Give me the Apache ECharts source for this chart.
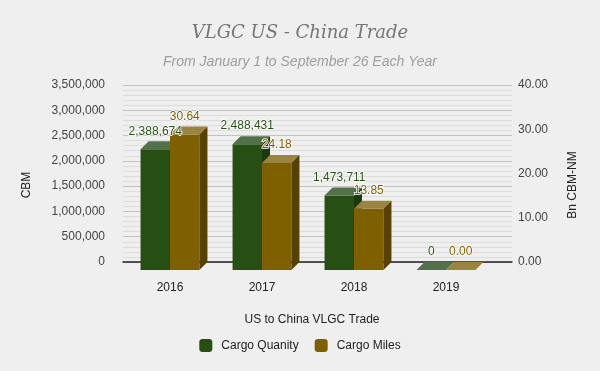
<!DOCTYPE html>
<html>
<head>
<meta charset="utf-8">
<script src="https://cdn.jsdelivr.net/npm/echarts@6/dist/echarts.min.js"></script>
<style>
html,body{margin:0;padding:0;background:#efefef;}
#chart{width:600px;height:371px;}
</style>
</head>
<body>
<div id="chart"></div>
<script>
const categories = ['2016', '2017', '2018', '2019'];
const cargoQuantity = [2388674, 2488431, 1473711, 0];
const cargoMiles = [30.64, 24.18, 13.85, 0.00];
const leftAxisRange = [0, 3500000, 500000];
const rightAxisRange = [0, 40, 10];
const seriesNames = ['Cargo Quanity', 'Cargo Miles'];

const FONT = '"Liberation Sans", Arial, sans-serif';
const DEPTH = 8;
const faceColors = [
  { front: '#274E13', top: '#52714A', side: '#1A3A0C', label: '#274E13' },
  { front: '#7F6000', top: '#9B8340', side: '#564100', label: '#7F6000' }
];

function fmtLeft(v) { return Number(v).toLocaleString('en-US'); }
function fmtRight(v) { return Number(v).toFixed(2); }

function makeRender(k) {
  return function (params, api) {
    const idx = api.value(0);
    const val = api.value(1);
    const base = api.coord([idx, 0]);
    const top = api.coord([idx, val]);
    const band = api.size([1, 0])[0];
    const w = band * 0.32;
    const cx = base[0];
    const x0 = k === 0 ? cx - w : cx;
    const x1 = x0 + w;
    const yb = base[1] + DEPTH;
    const yt = top[1] + DEPTH;
    const c = faceColors[k];
    const D = DEPTH;
    const text = k === 0 ? fmtLeft(val) : fmtRight(val);
    return {
      type: 'group',
      children: [
        { type: 'rect', shape: { x: x0, y: yt, width: w, height: yb - yt }, style: { fill: c.front } },
        { type: 'polygon', shape: { points: [[x0, yt], [x0 + D, yt - D], [x1 + D, yt - D], [x1, yt]] }, style: { fill: c.top } },
        { type: 'polygon', shape: { points: [[x1, yt], [x1 + D, yt - D], [x1 + D, yb - D], [x1, yb]] }, style: { fill: c.side } },
        { type: 'text', z2: 100, style: {
            x: (x0 + x1) / 2, y: yt - D - 10, text: text,
            fill: c.label, font: '12px ' + FONT, align: 'center', verticalAlign: 'middle',
            stroke: '#ffffff', lineWidth: 1.5
          } }
      ]
    };
  };
}

const chart = echarts.init(document.getElementById('chart'), null, { renderer: 'canvas' });
chart.setOption({
  backgroundColor: '#efefef',
  animation: false,
  textStyle: { fontFamily: FONT },
  title: [
    { text: 'VLGC US - China Trade', left: 'center', top: 19,
      textStyle: { fontFamily: '"DejaVu Serif", serif', fontStyle: 'italic', fontWeight: 'normal', fontSize: 18, color: '#757575' } },
    { text: 'From January 1 to September 26 Each Year', left: 'center', top: 50,
      textStyle: { fontFamily: FONT, fontStyle: 'italic', fontWeight: 'normal', fontSize: 14, color: '#9e9e9e' } }
  ],
  legend: {
    bottom: 14, left: 'center', itemWidth: 13, itemHeight: 13, itemGap: 16,
    icon: 'roundRect',
    textStyle: { fontSize: 12, color: '#222', padding: [0, 0, 0, 4] },
    data: [
      { name: seriesNames[0], itemStyle: { color: faceColors[0].front } },
      { name: seriesNames[1], itemStyle: { color: faceColors[1].front } }
    ]
  },
  grid: [
    { left: 123, right: 88, top: 85, bottom: 109 },
    { left: 124, right: 108, top: 85, bottom: 109 }
  ],
  xAxis: [
    { type: 'category', gridIndex: 0, data: categories,
      axisLine: { lineStyle: { color: '#222', width: 1.5 } },
      axisTick: { show: false }, axisLabel: { show: false } },
    { type: 'category', gridIndex: 1, data: categories,
      axisLine: { show: false }, axisTick: { show: false },
      axisLabel: { margin: 20, fontSize: 12, color: '#222' },
      name: 'US to China VLGC Trade', nameLocation: 'middle', nameGap: 52,
      nameTextStyle: { fontSize: 12, color: '#222', padding: [0, 0, 0, 8] } }
  ],
  yAxis: [
    { type: 'value', gridIndex: 0, min: leftAxisRange[0], max: leftAxisRange[1], interval: leftAxisRange[2],
      position: 'left',
      axisLine: { show: false }, axisTick: { show: false },
      axisLabel: { margin: 18, fontSize: 12, color: '#444', formatter: fmtLeft },
      splitLine: { show: true, lineStyle: { color: '#c2c2c2', width: 1 } },
      minorTick: { show: false, splitNumber: 5 },
      minorSplitLine: { show: true, lineStyle: { color: '#dcdcdc', width: 1 } },
      name: 'CBM', nameLocation: 'middle', nameGap: 90,
      nameTextStyle: { fontSize: 12, color: '#222', padding: [0, 23, 0, 0] } },
    { type: 'value', gridIndex: 0, min: rightAxisRange[0], max: rightAxisRange[1], interval: rightAxisRange[2],
      position: 'right',
      axisLine: { show: false }, axisTick: { show: false },
      axisLabel: { margin: 6, fontSize: 12, color: '#444', formatter: fmtRight },
      splitLine: { show: false },
      name: 'Bn CBM-NM', nameLocation: 'middle', nameGap: 55,
      nameTextStyle: { fontSize: 12, color: '#222', padding: [0, 23, 0, 0] } },
    { type: 'value', gridIndex: 1, min: leftAxisRange[0], max: leftAxisRange[1], show: false },
    { type: 'value', gridIndex: 1, min: rightAxisRange[0], max: rightAxisRange[1], show: false }
  ],
  series: [
    { name: seriesNames[0], type: 'custom', xAxisIndex: 1, yAxisIndex: 2,
      itemStyle: { color: faceColors[0].front },
      renderItem: makeRender(0),
      encode: { x: 0, y: 1 },
      data: categories.map((c, i) => [i, cargoQuantity[i]]) },
    { name: seriesNames[1], type: 'custom', xAxisIndex: 1, yAxisIndex: 3,
      itemStyle: { color: faceColors[1].front },
      renderItem: makeRender(1),
      encode: { x: 0, y: 1 },
      data: categories.map((c, i) => [i, cargoMiles[i]]) }
  ]
});
</script>
</body>
</html>
